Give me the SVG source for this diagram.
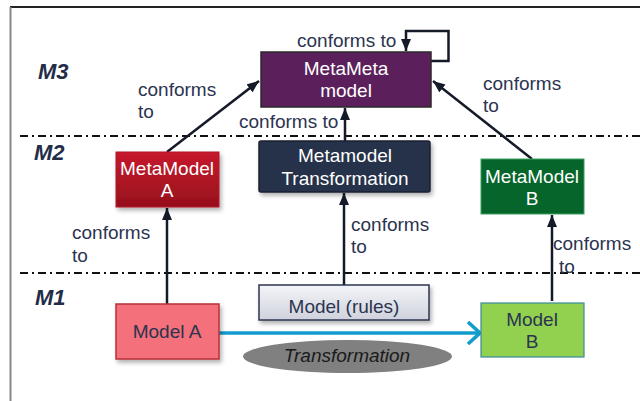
<svg xmlns="http://www.w3.org/2000/svg" width="640" height="401" viewBox="0 0 640 401">
<defs>
<marker id="ah" viewBox="0 0 12 10" refX="12" refY="5" markerWidth="12" markerHeight="10" markerUnits="userSpaceOnUse" orient="auto">
<path d="M0,0 L12,5 L0,10 Z" fill="#151a28"/>
</marker>
<marker id="open" viewBox="0 0 14 24" refX="13" refY="12" markerWidth="14" markerHeight="24" markerUnits="userSpaceOnUse" orient="auto">
<path d="M1,1 L13,12 L1,23" fill="none" stroke="#119ccd" stroke-width="3.5"/>
</marker>
<linearGradient id="gRed" x1="0" y1="0" x2="0" y2="1"><stop offset="0" stop-color="#c71a2c"/><stop offset="1" stop-color="#96101d"/></linearGradient>
<linearGradient id="gGray" x1="0" y1="0" x2="0" y2="1"><stop offset="0" stop-color="#f4f5f9"/><stop offset="1" stop-color="#cfd2dc"/></linearGradient>
<filter id="sh" x="-10%" y="-10%" width="130%" height="140%"><feDropShadow dx="2" dy="3" stdDeviation="2" flood-color="#000" flood-opacity="0.3"/></filter>
</defs>
<style>
text{font-family:"Liberation Sans",Arial,sans-serif;}
.lbl{font-size:19px;fill:#2b3450;}
.w{font-size:19px;fill:#ffffff;text-anchor:middle;}
.d{font-size:19px;fill:#2b3450;text-anchor:middle;}
.lvl{font-size:22px;font-weight:bold;font-style:italic;fill:#242d48;}
.conn{stroke:#151a28;stroke-width:2.5;fill:none;}
.sep{stroke:#111;stroke-width:2;stroke-dasharray:8 4 2 4;}
</style>
<g id="frame">
<line x1="10" y1="7" x2="640" y2="7" stroke="#222" stroke-width="2"/>
<line x1="10.5" y1="7" x2="10.5" y2="401" stroke="#888" stroke-width="2"/>
</g>
<g id="levels">
<line class="sep" x1="20" y1="136" x2="640" y2="136"/>
<line class="sep" x1="20" y1="273" x2="640" y2="273"/>
<text class="lvl" x="38" y="79">M3</text>
<text class="lvl" x="34" y="160">M2</text>
<text class="lvl" x="35" y="305">M1</text>
</g>
<g id="connectors">
<path class="conn" d="M167,152 L259,81" marker-end="url(#ah)"/>
<path class="conn" d="M532,159 L433,81" marker-end="url(#ah)"/>
<path class="conn" d="M345,141 L345,108" marker-end="url(#ah)"/>
<path class="conn" d="M431,61 L448.5,61 L448.5,31 L406,31 L406,51" marker-end="url(#ah)"/>
<path class="conn" d="M167,304 L167,208" marker-end="url(#ah)"/>
<path class="conn" d="M344,285 L344,193" marker-end="url(#ah)"/>
<path class="conn" d="M552,301 L552,215" marker-end="url(#ah)"/>
<path d="M219,333 L480,333" stroke="#119ccd" stroke-width="3.5" fill="none" marker-end="url(#open)"/>
<text class="lbl" x="297" y="47">conforms to</text>
<text class="lbl" x="138" y="96">conforms</text>
<text class="lbl" x="138" y="118">to</text>
<text class="lbl" x="239" y="128">conforms to</text>
<text class="lbl" x="483" y="90">conforms</text>
<text class="lbl" x="483" y="112">to</text>
<text class="lbl" x="72" y="239">conforms</text>
<text class="lbl" x="72" y="262">to</text>
<text class="lbl" x="351" y="231">conforms</text>
<text class="lbl" x="351" y="253">to</text>
<text class="lbl" x="553" y="250">conforms</text>
<text class="lbl" x="559" y="273">to</text>
</g>
<g id="metameta">
<rect x="261" y="52" width="170" height="55" fill="#5b1f5c" stroke="#2a2a2a" stroke-width="1.5"/>
<text class="w" x="346" y="75">MetaMeta</text>
<text class="w" x="346" y="97">model</text>
</g>
<g id="metamodelA">
<rect x="116" y="152" width="103" height="55" fill="url(#gRed)" stroke="#b01828" stroke-width="1" filter="url(#sh)"/>
<text class="w" x="167" y="175">MetaModel</text>
<text class="w" x="167" y="197">A</text>
</g>
<g id="mmTransformation">
<rect x="259" y="141" width="171" height="51" rx="2" fill="#283249" stroke="#1a2033" stroke-width="1.5" filter="url(#sh)"/>
<text class="w" x="345" y="162">Metamodel</text>
<text class="w" x="345" y="185">Transformation</text>
</g>
<g id="metamodelB">
<rect x="481" y="159" width="103" height="55" fill="#05652a" stroke="#3da060" stroke-width="1"/>
<text class="w" x="532" y="183">MetaModel</text>
<text class="w" x="532" y="205">B</text>
</g>
<g id="modelA">
<rect x="116" y="304" width="103" height="55" fill="#f4707a" stroke="#b83038" stroke-width="1.5" filter="url(#sh)"/>
<text class="d" x="167" y="338">Model A</text>
</g>
<g id="modelRules">
<rect x="259" y="285" width="170" height="35" fill="url(#gGray)" stroke="#2b3550" stroke-width="1.5" filter="url(#sh)"/>
<text class="d" x="344" y="313">Model (rules)</text>
</g>
<g id="modelB">
<rect x="481" y="303" width="103" height="54" fill="#92d050" stroke="#3a8a9a" stroke-width="1.2"/>
<text class="d" x="532" y="326">Model</text>
<text class="d" x="532" y="348">B</text>
</g>
<g id="transformation">
<ellipse cx="347.5" cy="356.5" rx="104.5" ry="16.5" fill="#808080"/>
<text x="347" y="362" font-size="19" font-style="italic" fill="#1a1a1a" text-anchor="middle">Transformation</text>
</g>
</svg>
